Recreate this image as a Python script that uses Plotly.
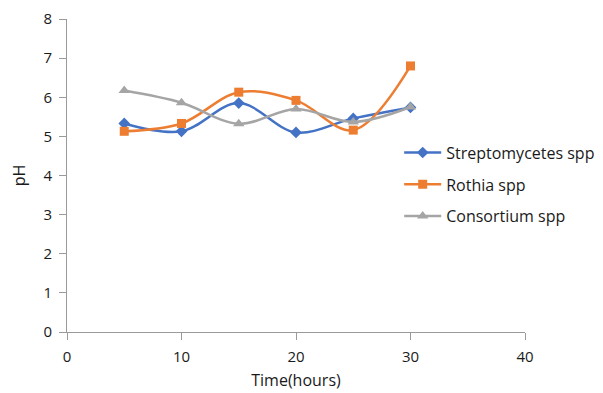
import plotly.graph_objects as go

time_h = [5, 10, 15, 20, 25, 30]
streptomycetes = [5.33, 5.13, 5.85, 5.10, 5.46, 5.74]
rothia = [5.13, 5.33, 6.13, 5.92, 5.16, 6.80]
consortium = [6.17, 5.86, 5.32, 5.70, 5.37, 5.75]

series = [
    ("Streptomycetes spp", streptomycetes, "#4472C4", "diamond", 9),
    ("Rothia spp", rothia, "#ED7D31", "square", 9),
    ("Consortium spp", consortium, "#A5A5A5", "triangle-up", 10),
]

fig = go.Figure()
for i, (name, vals, color, sym, size) in enumerate(series):
    fig.add_trace(go.Scatter(
        x=time_h, y=vals, name=name, mode="lines+markers",
        line=dict(color=color, width=2.5, shape="spline", smoothing=1.0),
        marker=dict(symbol=sym, size=size, color=color),
        legendgroup=f"g{i}",
    ))

font_family = "Open Sans, Liberation Sans, sans-serif"
axis_common = dict(
    showgrid=False, zeroline=False, showline=True, linecolor="#9a9a9a",
    linewidth=1, ticks="outside", ticklen=7, tickcolor="#9a9a9a",
    automargin=False,
    tickfont=dict(family=font_family, size=15, color="#1a1a1a"),
)

fig.update_layout(
    width=603, height=393,
    margin=dict(l=67, r=78, t=19, b=61, autoexpand=False),
    plot_bgcolor="white", paper_bgcolor="white",
    font=dict(family=font_family, color="#1a1a1a"),
    xaxis=dict(range=[0, 40], dtick=10, ticklabelstandoff=4,
               title=dict(text="Time(hours)", font=dict(size=16), standoff=9),
               **axis_common),
    yaxis=dict(range=[0, 8], dtick=1, ticklabelstandoff=4,
               title=dict(text="pH", font=dict(size=16), standoff=13),
               **axis_common),
    legend=dict(xref="container", yref="container", x=0.662, y=0.655,
                xanchor="left", yanchor="top", itemwidth=37,
                font=dict(size=16), tracegroupgap=8, bgcolor="rgba(0,0,0,0)"),
)

fig.write_html("out.html")
